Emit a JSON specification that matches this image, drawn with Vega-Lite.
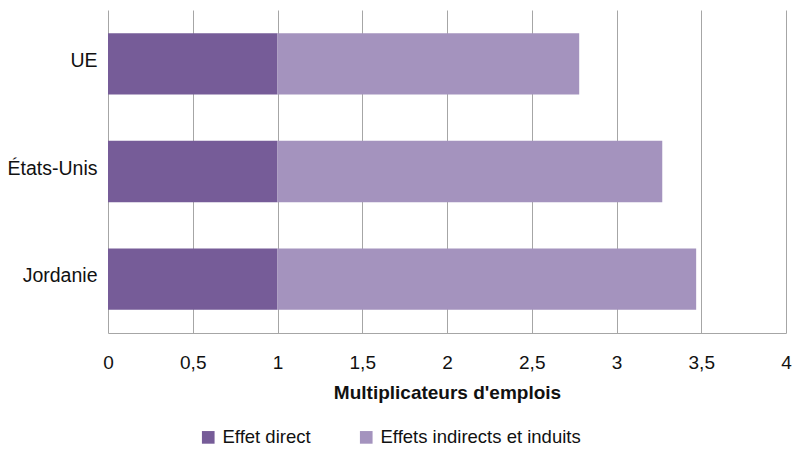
{
  "$schema": "https://vega.github.io/schema/vega-lite/v6.json",
  "width": 678,
  "height": 323,
  "autosize": {"type": "none"},
  "padding": {"left": 108, "top": 10, "right": 6, "bottom": 116},
  "background": "white",
  "config": {
    "font": "Liberation Sans",
    "view": {"stroke": null},
    "axis": {"labelFont": "Liberation Sans", "titleFont": "Liberation Sans"}
  },
  "data": {
    "values": [
      {"pays": "UE", "effet": "Effet direct", "valeur": 1},
      {"pays": "UE", "effet": "Effets indirects et induits", "valeur": 1.78},
      {"pays": "États-Unis", "effet": "Effet direct", "valeur": 1},
      {"pays": "États-Unis", "effet": "Effets indirects et induits", "valeur": 2.27},
      {"pays": "Jordanie", "effet": "Effet direct", "valeur": 1},
      {"pays": "Jordanie", "effet": "Effets indirects et induits", "valeur": 2.47}
    ]
  },
  "mark": {"type": "bar"},
  "encoding": {
    "y": {
      "field": "pays",
      "type": "nominal",
      "sort": ["UE", "États-Unis", "Jordanie"],
      "scale": {"paddingInner": 0.43, "paddingOuter": 0.215},
      "axis": {
        "title": null,
        "domain": false,
        "ticks": false,
        "labelPadding": 11,
        "labelOffset": -3,
        "labelFontSize": 19.5,
        "labelColor": "#111111"
      }
    },
    "x": {
      "field": "valeur",
      "type": "quantitative",
      "stack": "zero",
      "scale": {"domain": [0, 4], "nice": false},
      "axis": {
        "values": [0, 0.5, 1, 1.5, 2, 2.5, 3, 3.5, 4],
        "format": ",.1~f",
        "formatType": "number",
        "labelExpr": "replace(datum.label, '.', ',')",
        "title": "Multiplicateurs d'emplois",
        "titleFontSize": 19,
        "titleFontWeight": "bold",
        "titleColor": "#111111",
        "titlePadding": 11,
        "labelFontSize": 19,
        "labelColor": "#111111",
        "labelPadding": 20,
        "labelFlush": false,
        "ticks": false,
        "domainColor": "#A6A6A6",
        "grid": true,
        "gridColor": "#A6A6A6",
        "gridWidth": 1
      }
    },
    "color": {
      "field": "effet",
      "type": "nominal",
      "scale": {
        "domain": ["Effet direct", "Effets indirects et induits"],
        "range": ["#765C98", "#A493BE"]
      },
      "legend": {
        "title": null,
        "orient": "none",
        "direction": "horizontal",
        "legendX": 91,
        "legendY": 418,
        "symbolType": "square",
        "symbolSize": 160,
        "symbolStrokeWidth": 0,
        "labelFontSize": 18.5,
        "labelLimit": 400,
        "labelColor": "#111111",
        "labelOffset": 5,
        "columnPadding": 46
      }
    }
  }
}
